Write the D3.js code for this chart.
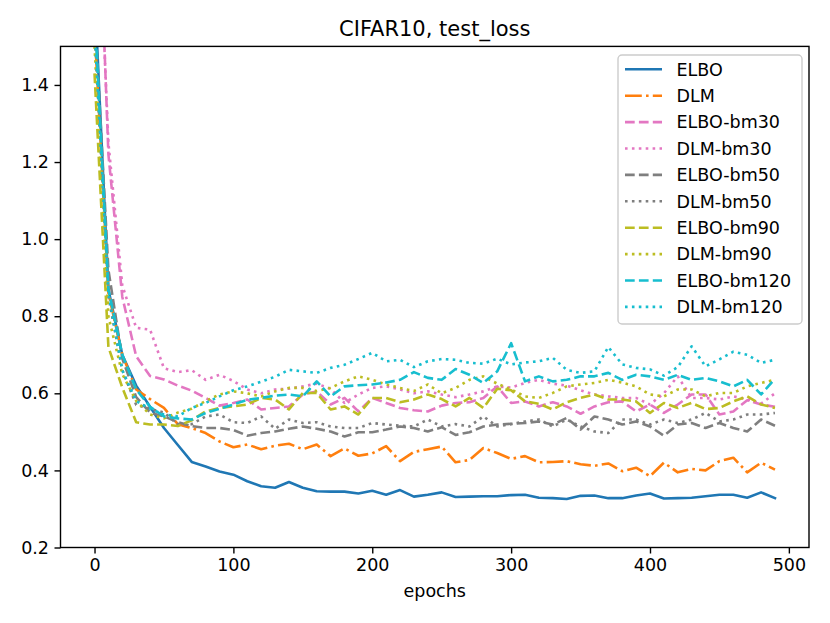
<!DOCTYPE html>
<html><head><meta charset="utf-8">
<script src="https://cdn.jsdelivr.net/npm/d3@7"></script>
<style>body{margin:0;background:#fff}svg{display:block;font-family:"DejaVu Sans",sans-serif}</style>
</head><body><svg id="c" width="830" height="623"></svg>
<script>
const epochs = [0,10,20,30,40,50,60,70,80,90,100,110,120,130,140,150,160,170,180,190,200,210,220,230,240,250,260,270,280,290,300,310,320,330,340,350,360,370,380,390,400,410,420,430,440,450,460,470,480,490];
const elbo = [1.65,0.87,0.70,0.62,0.565,0.51,0.466,0.422,0.41,0.397,0.389,0.372,0.359,0.355,0.37,0.355,0.346,0.345,0.345,0.34,0.347,0.337,0.349,0.332,0.337,0.343,0.331,0.332,0.333,0.333,0.336,0.337,0.329,0.328,0.326,0.334,0.335,0.328,0.328,0.335,0.34,0.327,0.328,0.329,0.333,0.337,0.337,0.329,0.343,0.328];
const dlm = [1.55,0.86,0.70,0.61,0.585,0.562,0.52,0.51,0.497,0.475,0.46,0.467,0.455,0.464,0.469,0.455,0.467,0.437,0.457,0.438,0.444,0.463,0.424,0.448,0.455,0.462,0.421,0.427,0.458,0.445,0.43,0.437,0.421,0.422,0.424,0.416,0.412,0.418,0.398,0.407,0.385,0.42,0.395,0.404,0.400,0.424,0.433,0.395,0.42,0.402];
const elboBm30 = [2.2,1.22,0.85,0.696,0.645,0.636,0.62,0.607,0.588,0.568,0.575,0.584,0.558,0.562,0.566,0.597,0.605,0.571,0.588,0.553,0.588,0.575,0.562,0.556,0.553,0.568,0.575,0.577,0.588,0.618,0.575,0.579,0.566,0.577,0.566,0.547,0.566,0.577,0.579,0.553,0.571,0.549,0.571,0.597,0.597,0.545,0.553,0.582,0.571,0.565];
const dlmBm30 = [2.1,1.25,0.88,0.77,0.765,0.665,0.655,0.66,0.635,0.648,0.632,0.61,0.6,0.61,0.612,0.618,0.625,0.612,0.575,0.597,0.614,0.618,0.61,0.6,0.605,0.597,0.59,0.597,0.605,0.618,0.615,0.627,0.635,0.625,0.62,0.608,0.597,0.592,0.588,0.588,0.571,0.6,0.644,0.588,0.588,0.584,0.592,0.584,0.573,0.6];
const elboBm50 = [1.6,0.92,0.69,0.59,0.55,0.54,0.525,0.515,0.51,0.51,0.505,0.49,0.497,0.501,0.508,0.514,0.508,0.501,0.488,0.499,0.499,0.506,0.514,0.51,0.501,0.512,0.492,0.499,0.514,0.519,0.521,0.523,0.527,0.519,0.536,0.506,0.54,0.532,0.519,0.527,0.514,0.49,0.519,0.523,0.51,0.523,0.51,0.501,0.532,0.516];
const dlmBm50 = [1.55,0.85,0.66,0.57,0.56,0.55,0.52,0.52,0.54,0.545,0.525,0.523,0.54,0.508,0.532,0.523,0.525,0.514,0.51,0.51,0.523,0.519,0.516,0.514,0.532,0.514,0.52,0.514,0.54,0.514,0.52,0.527,0.532,0.514,0.532,0.514,0.501,0.497,0.532,0.532,0.519,0.532,0.523,0.532,0.549,0.527,0.532,0.545,0.545,0.549];
const elboBm90 = [1.43,0.72,0.615,0.525,0.519,0.519,0.515,0.53,0.553,0.562,0.566,0.571,0.588,0.584,0.558,0.601,0.601,0.558,0.566,0.545,0.588,0.588,0.577,0.584,0.597,0.585,0.566,0.588,0.562,0.612,0.608,0.579,0.573,0.558,0.577,0.588,0.597,0.584,0.584,0.579,0.549,0.575,0.562,0.575,0.559,0.562,0.579,0.592,0.571,0.562];
const dlmBm90 = [1.5,0.8,0.65,0.58,0.545,0.535,0.55,0.56,0.58,0.597,0.605,0.6,0.592,0.605,0.614,0.614,0.606,0.614,0.631,0.644,0.635,0.623,0.614,0.606,0.623,0.6,0.614,0.635,0.644,0.625,0.61,0.592,0.588,0.601,0.618,0.623,0.627,0.635,0.628,0.618,0.597,0.592,0.61,0.61,0.592,0.601,0.601,0.618,0.627,0.635];
const elboBm120 = [1.6,0.87,0.7,0.61,0.565,0.54,0.535,0.532,0.549,0.56,0.571,0.583,0.588,0.594,0.597,0.592,0.631,0.592,0.618,0.621,0.623,0.628,0.635,0.655,0.64,0.635,0.663,0.648,0.627,0.657,0.73,0.631,0.644,0.631,0.635,0.644,0.644,0.653,0.635,0.648,0.644,0.635,0.648,0.635,0.64,0.631,0.618,0.635,0.597,0.638];
const dlmBm120 = [1.55,0.86,0.66,0.58,0.56,0.545,0.54,0.562,0.575,0.592,0.608,0.618,0.63,0.643,0.661,0.657,0.653,0.666,0.674,0.689,0.705,0.683,0.687,0.668,0.683,0.689,0.687,0.679,0.677,0.69,0.675,0.68,0.683,0.692,0.661,0.653,0.657,0.72,0.675,0.666,0.662,0.646,0.668,0.722,0.67,0.688,0.708,0.70,0.679,0.687];
const seriesNames = ["ELBO","DLM","ELBO-bm30","DLM-bm30","ELBO-bm50","DLM-bm50","ELBO-bm90","DLM-bm90","ELBO-bm120","DLM-bm120"];
const seriesValues = [elbo,dlm,elboBm30,dlmBm30,elboBm50,dlmBm50,elboBm90,dlmBm90,elboBm120,dlmBm120];
const xTicks = [0,100,200,300,400,500];
const yTicks = [0.2,0.4,0.6,0.8,1.0,1.2,1.4];

const colors = ["#1f77b4","#ff7f0e","#e377c2","#e377c2","#7f7f7f","#7f7f7f","#bcbd22","#bcbd22","#17becf","#17becf"];
const DASH = "9.7,4.2", DOT = "2.6,4.3", DASHDOT = "16.8,4.2,2.6,4.2";
const dashes = [null,DASHDOT,DASH,DOT,DASH,DOT,DASH,DOT,DASH,DOT];

const L = 60.5, R = 809, T = 46.4, B = 547.5;
const svg = d3.select("#c");
const x = d3.scaleLinear().domain([-24.5,514.5]).range([L,R]);
const y = d3.scaleLinear().domain([0.2,1.5]).range([B,T]);
const FS = 17.5;

svg.append("defs").append("clipPath").attr("id","clip").append("rect")
  .attr("x",L).attr("y",T).attr("width",R-L).attr("height",B-T);

const line = d3.line().x((d,i)=>x(epochs[i])).y(d=>y(d));
const g = svg.append("g").attr("clip-path","url(#clip)");
seriesValues.forEach((vals,k)=>{
  g.append("path").attr("d",line(vals)).attr("fill","none")
    .attr("stroke",colors[k]).attr("stroke-width",2.6)
    .attr("stroke-dasharray",dashes[k]).attr("stroke-linejoin","round")
    .attr("stroke-linecap",dashes[k]?"butt":"square");
});

// axes
const xAx = d3.axisBottom(x).tickValues(xTicks).tickSize(6).tickPadding(5.5).tickFormat(d3.format("d"));
const yAx = d3.axisLeft(y).tickValues(yTicks).tickSize(6).tickPadding(5.5).tickFormat(d3.format(".1f"));
const gx = svg.append("g").attr("transform",`translate(0,${B})`).call(xAx);
const gy = svg.append("g").attr("transform",`translate(${L},0)`).call(yAx);
[gx,gy].forEach(a=>{
  a.select(".domain").remove();
  a.selectAll("line").attr("stroke","#000").attr("stroke-width",1.4);
  a.selectAll("text").attr("font-size",FS).attr("fill","#000").attr("font-family","DejaVu Sans");
});
// spines
svg.append("rect").attr("x",L).attr("y",T).attr("width",R-L).attr("height",B-T)
  .attr("fill","none").attr("stroke","#000").attr("stroke-width",1.4);

svg.append("text").attr("x",(L+R)/2).attr("y",36).attr("text-anchor","middle")
  .attr("font-size",21).text("CIFAR10, test_loss");
svg.append("text").attr("x",(L+R)/2).attr("y",597).attr("text-anchor","middle")
  .attr("font-size",FS).text("epochs");

// legend
const lg = svg.append("g");
lg.append("rect").attr("x",618).attr("y",55).attr("width",184).attr("height",269).attr("rx",4)
  .attr("fill","#fff").attr("fill-opacity",0.8).attr("stroke","#cccccc").attr("stroke-width",1.4);
seriesNames.forEach((n,k)=>{
  const yy = 69.3 + 26.4*k;
  lg.append("line").attr("x1",625).attr("x2",662).attr("y1",yy).attr("y2",yy)
    .attr("stroke",colors[k]).attr("stroke-width",2.6).attr("stroke-dasharray",dashes[k]);
  lg.append("text").attr("x",676.5).attr("y",yy+6.3).attr("font-size",FS).text(n);
});
</script></body></html>
